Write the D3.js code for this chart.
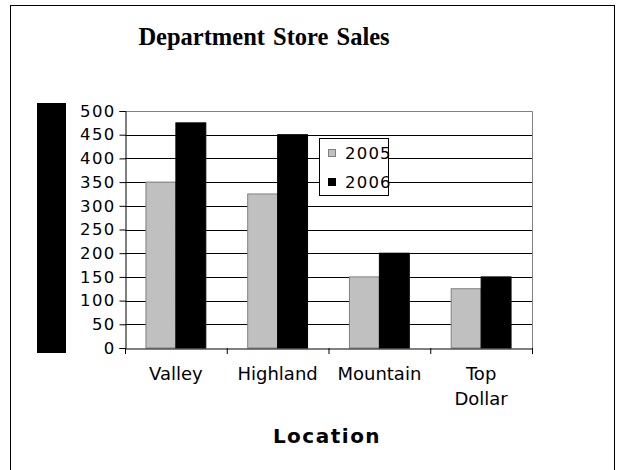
<!DOCTYPE html>
<html>
<head>
<meta charset="utf-8">
<script src="https://cdn.jsdelivr.net/npm/d3@7"></script>
<style>
  body { margin: 0; background: #fff; }
  svg text { font-family: "DejaVu Sans", Verdana, sans-serif; }
</style>
</head>
<body>
<svg id="chart" width="619" height="470"></svg>
<script>
// data
var locations = ["Valley", "Highland", "Mountain", "Top Dollar"];
var years = ["2005", "2006"];
var sales2005 = [350, 325, 150, 125];
var sales2006 = [475, 450, 200, 150];
var yTicks = [0, 50, 100, 150, 200, 250, 300, 350, 400, 450, 500];
var colors = ["#c0c0c0", "#000000"];

var svg = d3.select("#chart");

// outer frame
svg.append("rect")
  .attr("x", 10.5).attr("y", 5.5)
  .attr("width", 604).attr("height", 480)
  .attr("fill", "#fff").attr("stroke", "#000").attr("stroke-width", 1);

var plotL = 125, plotR = 532, plotT = 111, plotB = 348;

var x = d3.scaleBand().domain(locations).range([plotL, plotR]);
var xIn = d3.scaleBand().domain(years).range([0, x.bandwidth()]).paddingOuter(0.7).paddingInner(0);
var y = d3.scaleLinear().domain([0, 500]).range([plotB, plotT]);

// title
svg.append("text")
  .attr("x", 264).attr("y", 45)
  .attr("text-anchor", "middle")
  .style("font-family", "'Liberation Serif', 'Times New Roman', serif")
  .style("font-weight", "bold")
  .style("font-size", "24.5px")
  .style("word-spacing", "2px")
  .text("Department Store Sales");

// black block where the y-axis title sits
svg.append("rect")
  .attr("x", 37).attr("y", 103)
  .attr("width", 29).attr("height", 250)
  .attr("fill", "#000");

// gridlines
svg.append("g").selectAll("line")
  .data(yTicks.slice(1, -1))
  .join("line")
  .attr("x1", plotL).attr("x2", plotR)
  .attr("y1", function(d) { return Math.round(y(d)) + 0.5; })
  .attr("y2", function(d) { return Math.round(y(d)) + 0.5; })
  .attr("stroke", "#000").attr("stroke-width", 1);

// plot border top/right (gray)
svg.append("path")
  .attr("d", "M" + plotL + "," + (plotT + 0.5) + "H" + (plotR + 0.5) + "V" + plotB)
  .attr("fill", "none").attr("stroke", "#808080");

// bars
var rows = locations.map(function(loc, i) {
  return { loc: loc, vals: [sales2005[i], sales2006[i]] };
});
var groups = svg.append("g").selectAll("g")
  .data(rows)
  .join("g")
  .attr("transform", function(d) { return "translate(" + x(d.loc) + ",0)"; });

groups.selectAll("rect")
  .data(function(d) { return d.vals.map(function(v, j) { return { year: years[j], v: v, j: j }; }); })
  .join("rect")
  .attr("x", function(d) { return xIn(d.year); })
  .attr("y", function(d) { return y(d.v); })
  .attr("width", xIn.bandwidth())
  .attr("height", function(d) { return plotB - y(d.v); })
  .attr("fill", function(d) { return colors[d.j]; })
  .attr("stroke", function(d) { return d.j === 0 ? "#808080" : "#000"; })
  .attr("stroke-width", 1);

// y axis
var yAxis = svg.append("g")
  .attr("transform", "translate(" + (plotL + 0.5) + ",0)")
  .call(d3.axisLeft(y).tickValues(yTicks).tickSize(6).tickPadding(4));
yAxis.select(".domain").attr("stroke", "#000");
yAxis.selectAll("text")
  .style("font-size", "16.5px")
  .style("letter-spacing", "1.3px")
  .attr("fill", "#000");

// x axis
var xAxis = svg.append("g")
  .attr("transform", "translate(0," + (plotB + 0.5) + ")")
  .call(d3.axisBottom(x).tickSize(0).tickSizeOuter(0).tickFormat(""));
xAxis.select(".domain").attr("stroke", "#000");
svg.append("g").selectAll("line")
  .data(locations.concat([null]))
  .join("line")
  .attr("x1", function(d, i) { return plotL + i * x.step() + 0.5; })
  .attr("x2", function(d, i) { return plotL + i * x.step() + 0.5; })
  .attr("y1", plotB).attr("y2", plotB + 6)
  .attr("stroke", "#000");

// category labels (wrap "Top Dollar")
svg.append("g").selectAll("text")
  .data(locations)
  .join("text")
  .attr("x", function(d) { return x(d) + x.bandwidth() / 2; })
  .attr("y", 380)
  .attr("text-anchor", "middle")
  .style("font-size", "18px")
  .each(function(d) {
    var words = d === "Top Dollar" ? ["Top", "Dollar"] : [d];
    var t = d3.select(this);
    words.forEach(function(w, k) {
      t.append("tspan")
        .attr("x", x(d) + x.bandwidth() / 2)
        .attr("dy", k === 0 ? 0 : 25)
        .text(w);
    });
  });

// x axis title
svg.append("text")
  .attr("x", 327).attr("y", 443)
  .attr("text-anchor", "middle")
  .style("font-size", "20px")
  .style("font-weight", "bold")
  .style("letter-spacing", "1.5px")
  .text("Location");

// legend
var legend = svg.append("g");
legend.append("rect")
  .attr("x", 319.5).attr("y", 138.5)
  .attr("width", 69).attr("height", 57)
  .attr("fill", "#fff").attr("stroke", "#000");
years.forEach(function(yr, i) {
  var ly = 153 + i * 29;
  legend.append("rect")
    .attr("x", 328.5).attr("y", ly - 3.5)
    .attr("width", 7).attr("height", 7)
    .attr("fill", colors[i])
    .attr("stroke", i === 0 ? "#808080" : "#000");
  legend.append("text")
    .attr("x", 345).attr("y", ly + 6)
    .style("font-size", "16.5px")
    .style("letter-spacing", "1.2px")
    .text(yr);
});
</script>
</body>
</html>
